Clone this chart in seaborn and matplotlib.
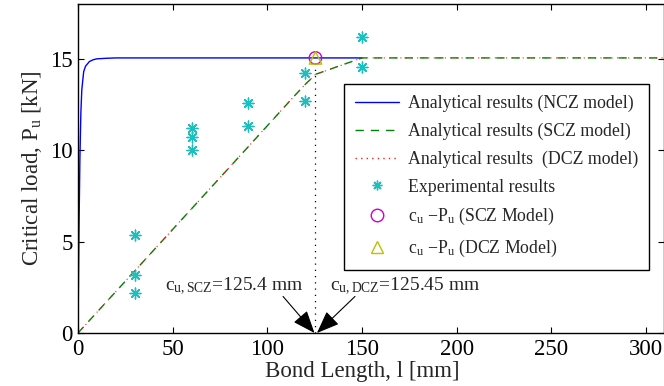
import numpy as np
import pandas as pd
import matplotlib
matplotlib.use("Agg")
import matplotlib.pyplot as plt
import seaborn as sns
from matplotlib.lines import Line2D

# Bond length [mm] and critical load [kN] for the three analytical models
ncz_l = [0, 0.5, 1, 1.5, 2, 3, 4, 6, 8, 10, 15, 20, 30, 150]
ncz_p = [0, 5.5, 9.5, 12.0, 13.3, 14.3, 14.6, 14.85, 14.95, 15.0, 15.03, 15.05, 15.05, 15.05]

scz_l = [0, 30, 60, 90, 115, 120, 123, 125.4, 135, 150, 310]
scz_p = [0, 3.4, 6.8, 10.2, 13.05, 13.6, 13.9, 14.15, 14.5, 15.05, 15.05]

dcz_l = [0, 30, 60, 90, 115, 120, 123, 125.45, 135, 150, 310]
dcz_p = [0, 3.4, 6.8, 10.2, 13.05, 13.6, 13.9, 14.15, 14.5, 15.05, 15.05]

# Experimental results
exp_l = [30, 30, 30, 60, 60, 60, 90, 90, 120, 120, 150, 150]
exp_p = [5.35, 3.2, 2.2, 11.2, 10.7, 10.0, 12.6, 11.3, 14.2, 12.7, 16.2, 14.55]

# Critical bond length and load
cu_scz, pu_scz = 125.4, 15.05
cu_dcz, pu_dcz = 125.45, 15.05

x_ticks = [0, 50, 100, 150, 200, 250, 300]
y_ticks = [0, 5, 10, 15]

legend_labels = [
    "Analytical results (NCZ model)",
    "Analytical results (SCZ model)",
    "Analytical results  (DCZ model)",
    "Experimental results",
    "c$_{\\mathrm{u}}$ \u2212P$_{\\mathrm{u}}$ (SCZ Model)",
    "c$_{\\mathrm{u}}$ \u2212P$_{\\mathrm{u}}$ (DCZ Model)",
]

sns.set_style("ticks")
plt.rcParams["font.family"] = ["Liberation Serif", "DejaVu Serif"]
plt.rcParams["mathtext.fontset"] = "custom"
plt.rcParams["mathtext.rm"] = "Liberation Serif"
plt.rcParams["mathtext.it"] = "Liberation Serif:italic"

fig = plt.figure(figsize=(6.64, 3.86), dpi=100)
ax = fig.add_axes([78 / 664, 1 - 333 / 386, 1 - 78 / 664, (333 - 4) / 386])

blue = (0, 0, 1)
green = (0, 0.5, 0)
red = (1, 0.1, 0.1)
cyan = (0.1, 0.75, 0.75)
magenta = (0.8, 0, 0.8)
yellow = (0.75, 0.75, 0)

dash = (0, (6, 5))
dot = (0, (1, 4))

sns.lineplot(x=ncz_l, y=ncz_p, ax=ax, color=blue, lw=1.0, sort=False,
             estimator=None)
sns.lineplot(x=scz_l, y=scz_p, ax=ax, color=green, lw=1.0, sort=False,
             estimator=None)
ax.lines[-1].set_linestyle(dash)
sns.lineplot(x=dcz_l, y=dcz_p, ax=ax, color=red, lw=0.8, sort=False,
             estimator=None)
ax.lines[-1].set_linestyle(dot)

# vertical marker at the critical bond length
sns.lineplot(x=[cu_scz, cu_scz], y=[0, pu_scz], ax=ax, color="black", lw=0.9,
             sort=False, estimator=None)
ax.lines[-1].set_linestyle(dot)

sns.scatterplot(x=exp_l, y=exp_p, ax=ax, marker=(8, 2, 0), s=60,
                color=cyan, edgecolor=cyan, linewidth=1.0, zorder=3)
sns.scatterplot(x=[cu_scz], y=[pu_scz], ax=ax, marker="o", s=80,
                facecolor="none", edgecolor=magenta, linewidth=1.0, zorder=4)
sns.scatterplot(x=[cu_dcz], y=[pu_dcz], ax=ax, marker="^", s=80,
                facecolor="none", edgecolor=yellow, linewidth=1.0, zorder=5)

ax.set_xlim(0, 309.5)
ax.set_ylim(0, 18)
ax.set_xticks(x_ticks)
ax.set_yticks(y_ticks)
ax.tick_params(direction="in", length=4.5, width=0.8, labelsize=16.5,
               top=True, right=True, colors="black", pad=4)
for s in ax.spines.values():
    s.set_linewidth(1.0)
    s.set_color("black")

ax.set_xlabel("Bond Length, l [mm]", fontsize=16.5)
ax.xaxis.set_label_coords(0.485, -0.085)
ax.set_ylabel("Critical load, P$_{\\mathrm{u}}$ [kN]", fontsize=16.5, labelpad=4)

# annotations for the critical bond lengths
arrowprops = dict(arrowstyle="-|>,head_length=1.4,head_width=0.55",
                  color="black", lw=0.8, shrinkA=0, shrinkB=0)
ax.annotate("", xy=(124.9, 0), xytext=(108.3, 2.0), arrowprops=arrowprops)
ax.annotate("", xy=(126.2, 0), xytext=(146.3, 2.0), arrowprops=arrowprops)
ax.text(46, 2.3, "c$_{\\mathrm{u,SCZ}}$=125.4 mm", fontsize=14, ha="left",
        va="baseline")
ax.text(133, 2.3, "c$_{\\mathrm{u,DCZ}}$=125.45 mm", fontsize=14, ha="left",
        va="baseline")

handles = [
    Line2D([], [], color=blue, lw=1.0),
    Line2D([], [], color=green, lw=1.0, ls=dash),
    Line2D([], [], color=red, lw=1.0, ls=(0, (1, 3))),
    Line2D([], [], ls="", marker=(8, 2, 0), ms=7, mec=cyan, mew=1.0),
    Line2D([], [], ls="", marker="o", ms=9, mfc="none", mec=magenta, mew=1.0),
    Line2D([], [], ls="", marker="^", ms=9, mfc="none", mec=yellow, mew=1.0),
]
leg = ax.legend(handles, legend_labels, loc="upper left",
                bbox_to_anchor=(344 / 664, 1 - 84 / 386),
                bbox_transform=fig.transFigure, fontsize=12.8,
                handlelength=2.5, handletextpad=0.5, labelspacing=0.6,
                borderpad=0.6, fancybox=False, framealpha=1, borderaxespad=0)
leg.get_frame().set_edgecolor("black")
leg.get_frame().set_linewidth(1.0)

fig.savefig("out.png", dpi=100)
